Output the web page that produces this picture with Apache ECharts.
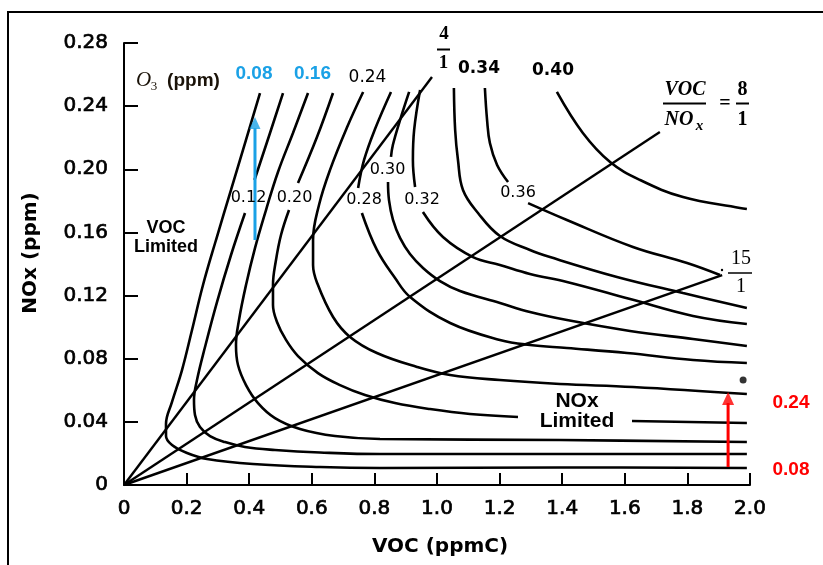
<!DOCTYPE html>
<html><head><meta charset="utf-8">
<script src="https://cdn.jsdelivr.net/npm/echarts/dist/echarts.min.js"></script>
<style>html,body{margin:0;padding:0;background:#fff}#c{width:823px;height:565px}</style>
</head><body><div id="c"></div>
<script>
// ---------- data ----------
const xTickLabels = ['0','0.2','0.4','0.6','0.8','1.0','1.2','1.4','1.6','1.8','2.0'];
const yTickLabels = ['0','0.04','0.08','0.12','0.16','0.20','0.24','0.28'];

// ozone isopleths [VOC ppmC, NOx ppm]; null = gap for an inline label
const o3_008 = [[0.4345,0.2483],[0.3898,0.2186],[0.3419,0.1869],[0.2939,0.1552],[0.2524,0.1267],[0.2173,0.0982],[0.1853,0.0728],[0.1534,0.0526],[0.1342,0.0386],[0.1342,0.031],[0.1534,0.0253],[0.2013,0.0203],[0.2652,0.0165],[0.4121,0.0133],[0.6262,0.0114],[0.8179,0.0108],[1.393,0.0111],[1.99,0.0108]];
const o3_012 = [[0.508,0.2483],[0.4665,0.2230],[0.4169,0.1932],null,[0.3866,0.1723],[0.3419,0.1457],[0.2971,0.1159],[0.2588,0.0874],[0.2332,0.0665],[0.2236,0.0538],[0.2268,0.0443],[0.2428,0.0367],[0.2748,0.031],[0.3227,0.0272],[0.3866,0.0241],[0.4824,0.0222],[0.6262,0.0206],[0.8179,0.0196],[1.393,0.0196],[1.99,0.0196]];
const o3_016 = [[0.5879,0.2483],[0.5399,0.223],[0.492,0.1983],[0.4537,0.1742],[0.4185,0.1501],[0.3898,0.1267],[0.3674,0.1045],[0.3578,0.0887],[0.3642,0.076],[0.3898,0.0633],[0.4281,0.0519],[0.4824,0.0424],[0.5623,0.0355],[0.6741,0.031],[0.8179,0.0291],[1.393,0.0285],[1.99,0.0272]];
const o3_020 = [[0.6677,0.2483],[0.6166,0.2204],[0.5559,0.1913],null,[0.5272,0.1742],[0.5016,0.1584],[0.4856,0.1425],[0.476,0.1267],[0.476,0.114],[0.4888,0.1033],[0.5176,0.0919],[0.5559,0.0817],[0.6198,0.0709],[0.6901,0.0633],[0.77,0.057],[0.8658,0.0519],[0.9776,0.0481],[1.1054,0.045],[1.2588,0.0431],null,[1.623,0.0405],[1.99,0.0393]];
const o3_024 = [[0.764,0.249],[0.713,0.2268],[0.658,0.1995],[0.623,0.1774],[0.604,0.1552],[0.604,0.1394],[0.617,0.128],[0.668,0.1064],[0.722,0.0938],[0.808,0.0836],[0.936,0.0748],[1.042,0.0697],[1.201,0.0665],[1.393,0.064],[1.626,0.0621],[1.99,0.0576]];
const o3_028 = [[0.853,0.249],[0.802,0.2255],[0.767,0.2059],[0.748,0.1881],null,[0.760,0.1723],[0.808,0.1489],[0.866,0.1311],[0.914,0.1191],[1.042,0.1026],[1.201,0.0919],[1.297,0.0887],[1.415,0.0868],[1.607,0.0836],[1.818,0.0792],[1.99,0.0773]];
const o3_030 = [[0.911,0.249],[0.882,0.2312],[0.859,0.2154],[0.853,0.2078],null,[0.8435,0.1919],[0.8466,0.1805],[0.8594,0.1679],[0.8818,0.1565],[0.9137,0.1463],[0.9553,0.1375],[1.0096,0.1292],[1.0735,0.1229],[1.2013,0.1153],[1.2971,0.1096],[1.4153,0.1045],[1.6166,0.0976],[1.8179,0.0925],[1.99,0.0881]];
const o3_032 = [[0.946,0.2502],[0.927,0.2249],[0.923,0.2059],[0.930,0.1888],null,[0.955,0.1729],[1.019,0.1571],[1.115,0.1444],[1.201,0.1394],[1.297,0.1337],[1.415,0.1286],[1.617,0.1178],[1.818,0.1071],[1.99,0.102]];
const o3_034 = [[1.054,0.2515],[1.058,0.2249],[1.067,0.2059],[1.083,0.1869],[1.131,0.1723],[1.201,0.1577],[1.297,0.1489],[1.361,0.1444],[1.575,0.1318],[1.786,0.1216],[1.99,0.1121]];
const o3_036 = [[1.153,0.2515],[1.160,0.2312],[1.169,0.2166],[1.192,0.2027],[1.227,0.1919],null,[1.291,0.1786],[1.415,0.1679],[1.626,0.1508],[1.799,0.1406],[1.904,0.133]];
const o3_040 = [[1.383,0.249],[1.466,0.223],[1.553,0.2046],[1.649,0.1932],[1.786,0.1824],[1.968,0.1755],[1.99,0.1748]];

// VOC/NOx ratio lines
const ray4  = [[0,0],[0.984,0.2585]];
const ray8  = [[0,0],[1.712,0.2236]];
const ray15 = [[0,0],[1.911,0.133]];

// arrows and marker dot
const blueArrowShaft = [[0.4185,0.1552],[0.4185,0.226]];
const blueArrowHead  = [[0.4185,0.2331]];
const redArrowShaft  = [[1.93,0.0114],[1.93,0.052]];
const redArrowHead   = [[1.93,0.0589]];
const dotPoint       = [[1.978,0.0665]];

// ---------- build ----------
const isopleths = [o3_008,o3_012,o3_016,o3_020,o3_024,o3_028,o3_030,o3_032,o3_034,o3_036,o3_040];
function splitSegments(pts){
  const segs=[[]];
  pts.forEach(p=>{ if(p===null) segs.push([]); else segs[segs.length-1].push(p); });
  return segs.filter(s=>s.length>1);
}
const BLUE = '#1aa1e6', RED = '#ff0000';
const series = [];
isopleths.forEach(pts=>{
  splitSegments(pts).forEach(seg=>{
    series.push({type:'line', data:seg, smooth:0.4, showSymbol:false, symbol:'none', silent:true,
      lineStyle:{color:'#000', width:2.6}, z:3});
  });
});
[ray4, ray8, ray15].forEach(r=>{
  series.push({type:'line', data:r, showSymbol:false, symbol:'none', silent:true, lineStyle:{color:'#000', width:2.4}, z:3});
});
series.push({type:'line', data:blueArrowShaft, showSymbol:false, symbol:'none', silent:true, lineStyle:{color:BLUE, width:3}, z:5});
series.push({type:'scatter', data:blueArrowHead, symbol:'triangle', symbolSize:[11,12], symbolOffset:[0,'50%'], silent:true, itemStyle:{color:BLUE}, z:5});
series.push({type:'line', data:redArrowShaft, showSymbol:false, symbol:'none', silent:true, lineStyle:{color:RED, width:3}, z:5});
series.push({type:'scatter', data:redArrowHead, symbol:'triangle', symbolSize:[12,13], symbolOffset:[0,'50%'], silent:true, itemStyle:{color:RED}, z:5});
series.push({type:'scatter', data:dotPoint, symbol:'circle', symbolSize:7, silent:true, itemStyle:{color:'#000'}, z:5});

function txt(text, x, y, font, fill, extra){
  return Object.assign({type:'text', x:x, y:y, z:100, silent:true,
    style:{text:text, font:font, fill:fill||'#000', align:'center', verticalAlign:'middle', textAlign:'center', textVerticalAlign:'middle'}}, extra||{});
}
function bar(x1,x2,y,w){
  return {type:'line', z:100, silent:true, shape:{x1:x1,y1:y,x2:x2,y2:y}, style:{stroke:'#000', lineWidth:w||2}};
}
const SANS = '"DejaVu Sans"', ARIAL = '"Liberation Sans"', SERIF = '"Liberation Serif"';
const graphics = [
  {type:'rect', z:100, silent:true, shape:{x:8,y:12,width:900,height:700}, style:{fill:'none', stroke:'#000', lineWidth:2}},
  txt('NOx (ppm)', 31, 253, 'bold 20px '+SANS, '#000', {rotation:Math.PI/2}),
  txt('VOC (ppmC)', 440, 547, 'bold 20px '+SANS),
  txt('O', 143.5, 80, 'italic 21px '+SERIF, '#1a1208'),
  txt('3', 154, 87, '13px '+SERIF, '#1a1208'),
  txt('(ppm)', 193.5, 81, 'bold 19px '+ARIAL, '#1a1208'),
  txt('0.08', 254, 73.5, 'bold 19px '+ARIAL, BLUE),
  txt('0.16', 312.5, 73.5, 'bold 19px '+ARIAL, BLUE),
  txt('0.24', 367.5, 77.5, '17px '+SANS),
  txt('0.34', 479, 69, 'bold 17px '+SANS),
  txt('0.40', 553, 71, 'bold 17px '+SANS),
  txt('0.12', 248.5, 197.5, '16px '+SANS),
  txt('0.20', 294.5, 197.5, '16px '+SANS),
  txt('0.30', 387.5, 170, '16px '+SANS),
  txt('0.28', 364, 200, '16px '+SANS),
  txt('0.32', 422, 200, '16px '+SANS),
  txt('0.36', 518, 192.5, '16px '+SANS),
  txt('VOC', 166, 228.5, 'bold 18px '+ARIAL),
  txt('Limited', 166, 247.5, 'bold 18px '+ARIAL),
  txt('NOx', 577, 401, 'bold 21px '+ARIAL),
  txt('Limited', 577, 421, 'bold 21px '+ARIAL),
  txt('0.24', 791, 402.5, 'bold 19px '+ARIAL, RED),
  txt('0.08', 791, 470, 'bold 19px '+ARIAL, RED),
  // 4/1
  txt('4', 444, 34, 'bold 19px '+SERIF),
  bar(437, 450, 49.5, 2),
  txt('1', 443.5, 63.5, 'bold 19px '+SERIF),
  // VOC/NOx = 8/1
  txt('VOC', 685, 90, 'bold italic 20px '+SERIF),
  bar(663, 706, 103.5, 2),
  txt('NO', 679, 120, 'bold italic 20px '+SERIF),
  txt('x', 699.5, 126, 'bold italic 15px '+SERIF),
  txt('=', 725, 104, 'bold 20px '+SERIF),
  txt('8', 742.5, 90, 'bold 20px '+SERIF),
  bar(736, 749, 103.5, 2),
  txt('1', 742.5, 120, 'bold 20px '+SERIF),
  // 15/1
  txt('15', 741, 259, '20px '+SERIF),
  bar(728, 752, 273, 1.5),
  txt('1', 741, 286.5, '20px '+SERIF),
  {type:'circle', z:100, silent:true, shape:{cx:722, cy:270, r:1.2}, style:{fill:'#000'}}
];

const chart = echarts.init(document.getElementById('c'), null, {renderer:'canvas'});
chart.setOption({
  animation:false,
  backgroundColor:'#fff',
  grid:{left:124, right:73, top:43, bottom:80, containLabel:false},
  xAxis:{type:'value', min:0, max:2, interval:0.2,
    splitLine:{show:false},
    axisLine:{lineStyle:{color:'#000', width:2}},
    axisTick:{inside:true, length:12, lineStyle:{color:'#000', width:2}},
    axisLabel:{margin:14, fontFamily:'DejaVu Sans', fontSize:20, color:'#000', textBorderColor:'#000', textBorderWidth:0.7,
      formatter:(v,i)=>xTickLabels[i]}},
  yAxis:{type:'value', min:0, max:0.28, interval:0.04,
    splitLine:{show:false},
    axisLine:{show:true, lineStyle:{color:'#000', width:2}},
    axisTick:{show:true, inside:true, length:14, lineStyle:{color:'#000', width:2}},
    axisLabel:{margin:16, fontFamily:'DejaVu Sans', fontSize:20, color:'#000', textBorderColor:'#000', textBorderWidth:0.7,
      formatter:(v,i)=>yTickLabels[i]}},
  series:series,
  graphic:graphics
});
</script>
</body></html>
